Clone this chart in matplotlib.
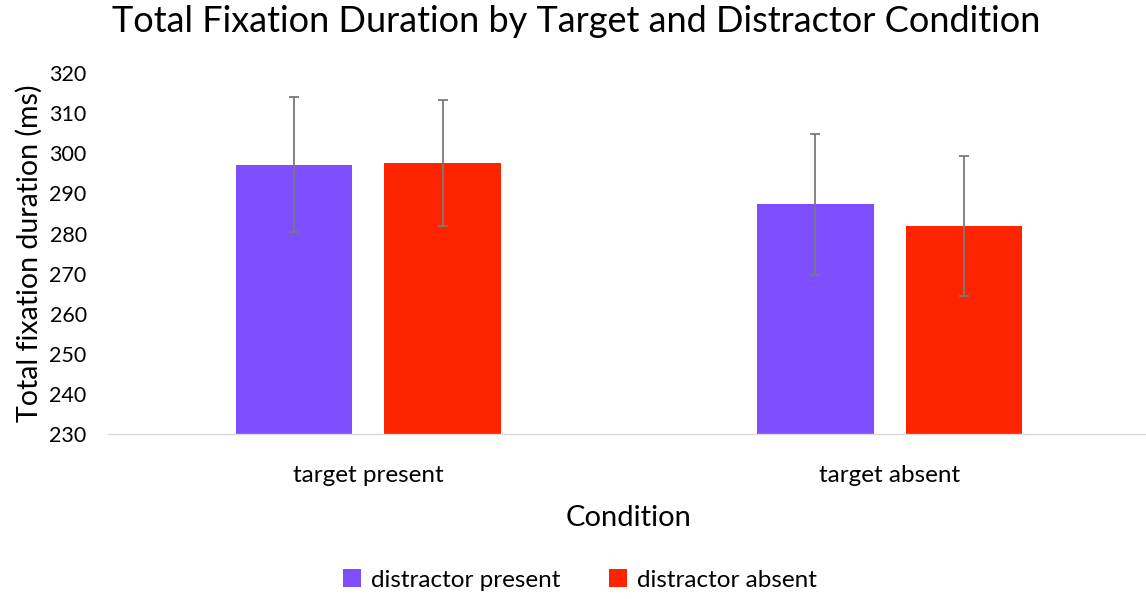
import matplotlib
matplotlib.use("Agg")
import matplotlib.pyplot as plt
import numpy as np

categories = ["target present", "target absent"]
series_names = ["distractor present", "distractor absent"]
distractor_present = [297.2, 287.3]
distractor_absent = [297.6, 281.9]
err_present = [16.9, 17.5]
err_absent = [15.7, 17.5]
colors = ["#7f4fff", "#ff2400"]
yticks = list(range(230, 321, 10))

plt.rcParams['font.family'] = ['Lato', 'DejaVu Sans']

fig = plt.figure(figsize=(11.46, 5.99), dpi=100)
L = 107.5 / 1146
W = 1043 / 1146
ax = fig.add_axes([L, 1 - 434.3 / 599, W, (434.3 - 73) / 599])

x = np.arange(len(categories))
w = 0.2234
off = 0.1424
ekw = dict(ecolor="#7a7a7a", elinewidth=1.3, capsize=3.5, capthick=1.3)
ax.bar(x - off, distractor_present, w, bottom=0, color=colors[0],
       yerr=err_present, error_kw=ekw, label=series_names[0])
ax.bar(x + off, distractor_absent, w, bottom=0, color=colors[1],
       yerr=err_absent, error_kw=ekw, label=series_names[1])

ax.set_ylim(230, 320)
ax.set_xlim(-0.5, 1.5)
ax.set_yticks(yticks)
ax.set_xticks(x)
ax.set_xticklabels(categories, fontsize=17.5)
ax.tick_params(axis='y', labelsize=15.5, length=0, pad=15)
ax.tick_params(axis='x', length=0, pad=22)
for s in ["top", "right", "left"]:
    ax.spines[s].set_visible(False)
ax.spines["bottom"].set_color("#d9d9d9")
ax.spines["bottom"].set_linewidth(1.0)

ax.set_ylabel("Total fixation duration (ms)", fontsize=20.5, labelpad=5)
ax.set_xlabel("Condition", fontsize=21, labelpad=14)

fig.text(0.503, 1 - 22 / 599, "Total Fixation Duration by Target and Distractor Condition",
         ha="center", va="center", fontsize=26)

fig.legend(loc="center", bbox_to_anchor=(0.506, 1 - 580 / 599), ncol=2, frameon=False,
           fontsize=17.5, handlelength=0.75, handleheight=0.75, columnspacing=2.0,
           handletextpad=0.4)

fig.savefig("out.png", dpi=100)
